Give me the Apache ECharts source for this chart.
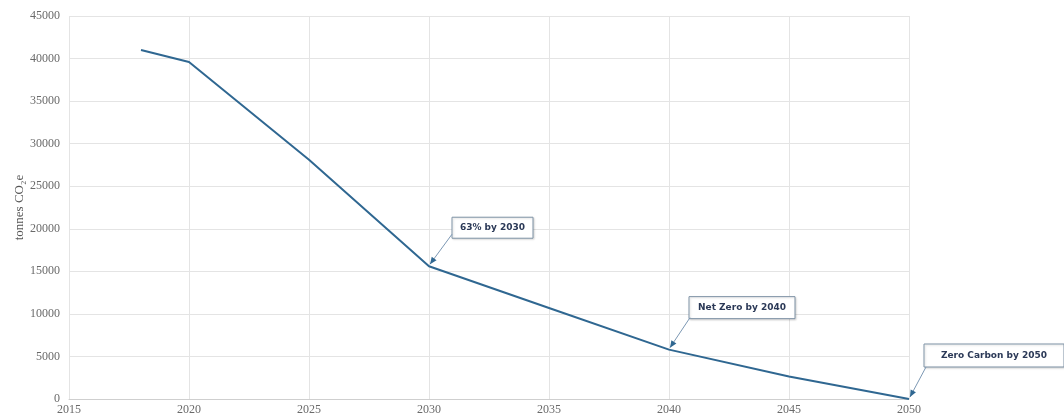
<!DOCTYPE html>
<html>
<head>
<meta charset="utf-8">
<script src="https://cdn.jsdelivr.net/npm/echarts@6/dist/echarts.min.js"></script>
<style>
html,body{margin:0;padding:0;background:#fff;}
#chart{width:1064px;height:420px;}
</style>
</head>
<body>
<div id="chart"></div>
<script>
// ---- data ----
const years = [2018, 2020, 2025, 2030, 2035, 2040, 2045, 2050];
const emissions = [41000, 39600, 28100, 15600, 10700, 5800, 2650, 0];
const annotationTexts = ['63% by 2030', 'Net Zero by 2040', 'Zero Carbon by 2050'];
const annotationYears = [2030, 2040, 2050];
const yTitle = 'tonnes CO\u2082e';

const chart = echarts.init(document.getElementById('chart'));
const seriesData = years.map((y, i) => [y, emissions[i]]);

chart.setOption({
  animation: false,
  grid: { left: 69, right: 155, top: 16, bottom: 21, containLabel: false, outerBoundsMode: 'none' },
  xAxis: {
    type: 'value', min: 2015, max: 2050, interval: 5,
    axisLine: { show: true, lineStyle: { color: '#cfcfcf' } },
    axisTick: { show: false },
    splitLine: { show: true, lineStyle: { color: '#e4e4e4' } },
    axisLabel: { color: '#6a6a6a', fontFamily: 'Liberation Serif', fontSize: 12, margin: 5, formatter: v => String(v) }
  },
  yAxis: {
    type: 'value', min: 0, max: 45000, interval: 5000,
    name: yTitle, nameLocation: 'middle', nameGap: 43, nameMoveOverlap: false,
    nameTextStyle: { color: '#555', fontFamily: 'Liberation Serif', fontSize: 13 },
    axisLine: { show: false }, axisTick: { show: false },
    splitLine: { show: true, lineStyle: { color: '#e4e4e4' } },
    axisLabel: { color: '#6a6a6a', fontFamily: 'Liberation Serif', fontSize: 12, margin: 9, formatter: v => String(v) }
  },
  series: [{
    type: 'line', data: seriesData, symbol: 'none',
    lineStyle: { color: '#2f6791', width: 2 }
  }]
});

// annotation layout (pixel offsets relative to the data point)
const boxLayout = [
  { dx: 23, dy: -49, w: 81, h: 21, ax: 23, ay: -32 },
  { dx: 20, dy: -53, w: 106, h: 22, ax: 21, ay: -32 },
  { dx: 15, dy: -55, w: 140, h: 23, ax: 17, ay: -32 }
];
const graphics = [];
annotationYears.forEach((yr, i) => {
  const idx = years.indexOf(yr);
  const p = chart.convertToPixel({ gridIndex: 0 }, [yr, emissions[idx]]);
  const L = boxLayout[i];
  const bx = p[0] + L.dx, by = p[1] + L.dy;
  graphics.push({
    type: 'rect', z: 10,
    shape: { x: bx, y: by, width: L.w, height: L.h },
    style: { fill: '#fff', stroke: '#7f93a6', lineWidth: 1, shadowBlur: 2, shadowColor: 'rgba(0,0,0,0.15)', shadowOffsetX: 1, shadowOffsetY: 1 }
  });
  graphics.push({
    type: 'text', z: 11,
    x: bx + L.w / 2, y: by + L.h / 2,
    style: { text: annotationTexts[i], fill: '#2b3957', font: 'bold 9px "DejaVu Sans"', align: 'center', verticalAlign: 'middle' }
  });
  const sx = p[0] + L.ax, sy = p[1] + L.ay;
  const ex = p[0] + 1, ey = p[1] - 2;
  graphics.push({
    type: 'line', z: 10,
    shape: { x1: sx, y1: sy, x2: ex, y2: ey },
    style: { stroke: '#7b97b3', lineWidth: 1 }
  });
  const ang = Math.atan2(ey - sy, ex - sx);
  const len = 7, wid = 3;
  const bxp = ex - len * Math.cos(ang), byp = ey - len * Math.sin(ang);
  graphics.push({
    type: 'polygon', z: 11,
    shape: { points: [[ex, ey],
      [bxp + wid * Math.sin(ang), byp - wid * Math.cos(ang)],
      [bxp - wid * Math.sin(ang), byp + wid * Math.cos(ang)]] },
    style: { fill: '#2f6791' }
  });
});
chart.setOption({ graphic: graphics });
</script>
</body>
</html>
